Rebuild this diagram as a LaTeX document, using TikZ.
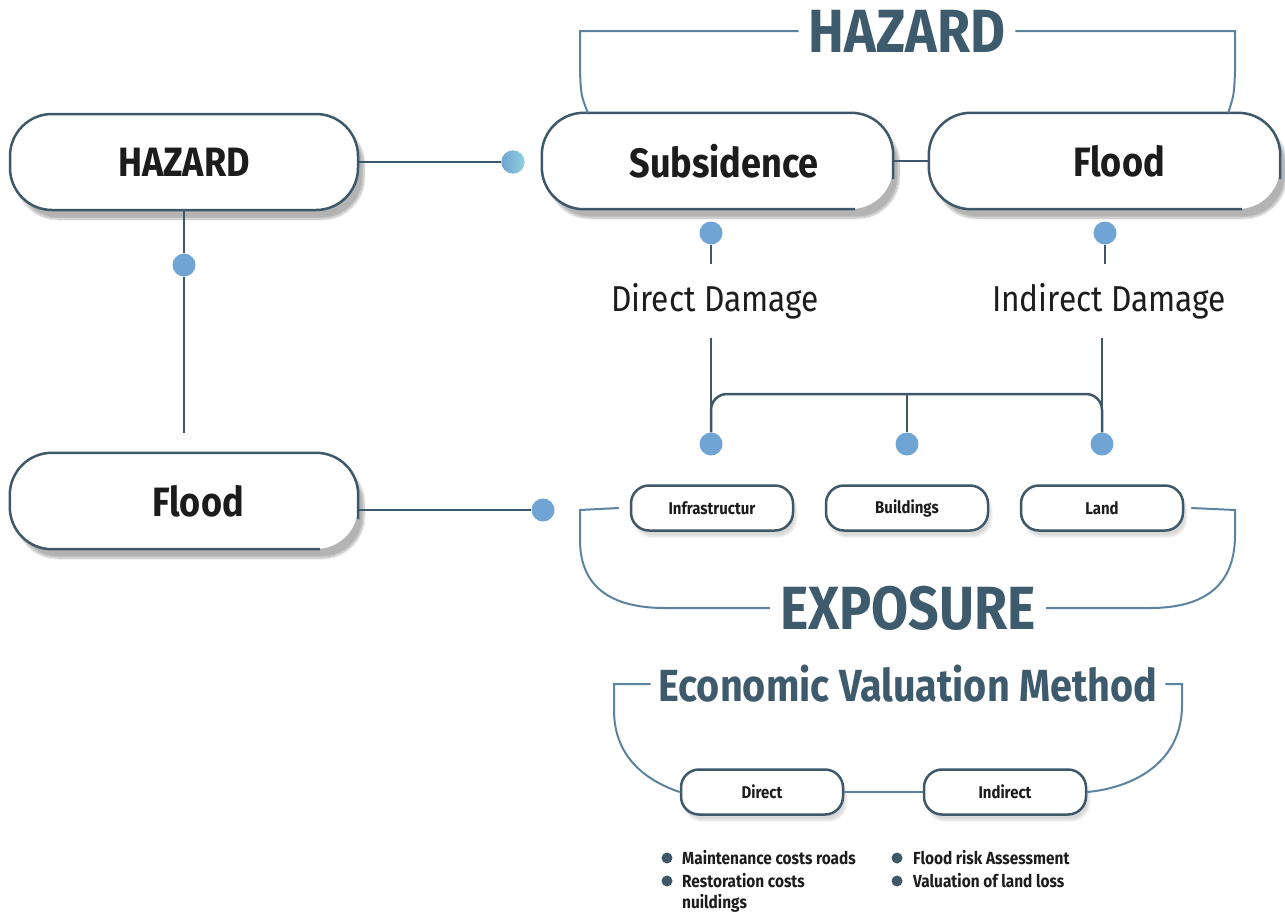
\documentclass[tikz,border=0pt]{standalone}
\usepackage{fontspec}
\setmainfont{Fira Sans}[FakeStretch=0.88]
\usetikzlibrary{shadows.blur}

\definecolor{slate}{HTML}{3F5869}
\definecolor{brk}{HTML}{5C83A0}
\definecolor{dotblue}{HTML}{6FA4D4}
\definecolor{dotlight}{HTML}{8FCFDC}
\definecolor{titlec}{HTML}{3E5A6D}
\definecolor{ink}{HTML}{1C1C1C}

% border of a big box, open at the lower right corner
\newcommand\openborder[1]{%
  \draw[boxline,rounded corners=42pt] ([xshift=-38pt]#1.south east) -- (#1.south west)
    -- (#1.north west) -- (#1.north east) -- ([yshift=-18pt]#1.east);}

\begin{document}
\begin{tikzpicture}[
    x=1pt,y=-1pt,
    boxline/.style={draw=slate,line width=2.5pt},
    link/.style={draw=slate,line width=2.5pt},
    bracket/.style={draw=brk,line width=2pt},
    bigbox/.style={rectangle,fill=white,minimum width=351pt,minimum height=96pt,
        rounded corners=42pt,text=ink,font=\bfseries\fontsize{41}{46}\selectfont,
        blur shadow={shadow xshift=6pt,shadow yshift=-9pt,shadow opacity=30,shadow blur steps=10}},
    smallbox/.style={rectangle,draw=slate,line width=2.5pt,fill=white,minimum width=162pt,
        minimum height=45pt,rounded corners=18pt,text=ink,font=\bfseries\fontsize{17}{20}\selectfont,
        blur shadow={shadow xshift=3pt,shadow yshift=-6pt,shadow opacity=15,shadow blur steps=8}},
    dot/.style={circle,fill=dotblue,minimum size=23pt,inner sep=0pt},
    title/.style={text=titlec,font=\bfseries\fontsize{61}{66}\selectfont,inner xsep=10pt,inner ysep=0pt},
    damage/.style={text=ink,font=\fontsize{36}{42}\selectfont,inner xsep=0pt,inner ysep=19pt},
    bullet/.style={circle,fill=slate,minimum size=11pt,inner sep=0pt},
    item/.style={text=ink,font=\bfseries\fontsize{17.5}{21}\selectfont,inner sep=0pt,align=left},
]
\useasboundingbox (0,0) rectangle (1285,911);

% left column
\node[bigbox,boxline,minimum width=348pt] (hazL) at (184,162) {HAZARD};
\node[bigbox,minimum width=348pt] (floodL) at (184,501) {\hspace*{28pt}Flood};
\openborder{floodL}
\node[dot] (dotB) at (184,265) {};
\coordinate (hazEnd) at (184,433);
\draw[link] (hazL.south) -- (dotB.north);
\draw[link] (dotB.south) -- (hazEnd);

% hazard pair
\node[bigbox] (subs) at (717.5,161) {\hspace*{13pt}Subsidence};
\node[bigbox] (floodR) at (1104.5,161) {\hspace*{29pt}Flood};
\openborder{subs}
\openborder{floodR}
\draw[link] (subs.east) -- (floodR.west);
\node[dot,left color=dotblue,right color=dotlight] (dotA) at (513,162) {};
\node[dot] (dotC) at (543,510) {};
\draw[link] (hazL.east) -- (dotA.west);
\draw[link] (floodL.east |- dotC) -- (dotC.west);

\node[title] (hazT) at (907,31) {HAZARD};
\draw[bracket] ([xshift=46pt]subs.north west) .. controls (581,95) .. (580,72) -- (580,31) -- (hazT.west);
\draw[bracket] (hazT.east) -- (1235,31) -- (1235,72) .. controls (1234,95) .. ([xshift=-52pt]floodR.north east);

% damage
\node[dot] (dotD) at (711,233) {};
\node[dot] (dotE) at (1105,233) {};
\node[damage] (dd) at (715,301) {Direct Damage};
\node[damage] (idd) at (1109,301) {Indirect Damage};
\draw[link] (dotD.south) -- (dotD |- dd.north);
\draw[link] (dotE.south) -- (dotE |- idd.north);

\node[dot] (dotF) at (711,444) {};
\node[dot] (dotG) at (907,444) {};
\node[dot] (dotH) at (1102,444) {};
\coordinate (bar) at (907,394);
\draw[link] (dotF |- dd.south) -- (dotF.north);
\draw[link] (dotH |- idd.south) -- (dotH.north);
\draw[link,rounded corners=16pt] (dotF.north) -- (dotF |- bar) -- (dotH |- bar) -- (dotH.north);
\draw[link] (bar) -- (dotG.north);

% exposure
\node[smallbox] (infra) at (712,508) {Infrastructur};
\node[smallbox] (build) at (907,508) {Buildings};
\node[smallbox] (land) at (1102,508) {Land};
\node[title] (expoT) at (908,608) {EXPOSURE};
\draw[bracket] ([xshift=-11pt]infra.west) -- (580,510) -- (580,540)
    .. controls (580,590) and (615,608) .. (665,608) -- (expoT.west);
\draw[bracket] (expoT.east) -- (1150,608) .. controls (1205,608) and (1235,585) .. (1235,535)
    -- (1235,510) -- ([xshift=7pt]land.east);

% valuation
\node[title,font=\bfseries\fontsize{45}{50}\selectfont,inner xsep=8pt] (ecoT) at (908,684) {Economic Valuation Method};
\node[smallbox] (direct) at (762,792) {Direct};
\node[smallbox] (indirect) at (1005,792) {Indirect};
\draw[bracket] (ecoT.west) -- (614,684) -- (614,710) .. controls (614,760) and (650,782) .. (direct.west);
\draw[bracket] (ecoT.east) -- (1182,684) -- (1182,705) .. controls (1182,765) and (1130,788) .. (indirect.east);
\draw[bracket] (direct) -- (indirect);

\node[bullet] (b1) at (667,858) {};
\node[item,anchor=west] (t1) at (682,858) {Maintenance costs roads};
\node[bullet] (b2) at (667,881) {};
\node[item,anchor=north west] (t2) at (682,873) {Restoration costs\\nuildings};
\node[bullet] (b3) at (897,858) {};
\node[item,anchor=west] (t3) at (913,858) {Flood risk Assessment};
\node[bullet] (b4) at (897,881) {};
\node[item,anchor=west] (t4) at (913,881) {Valuation of land loss};
\end{tikzpicture}
\end{document}
